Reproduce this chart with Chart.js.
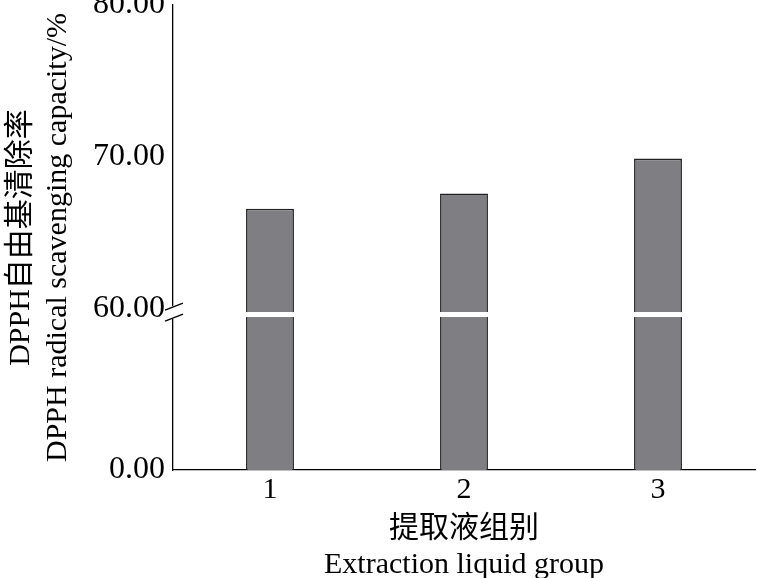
<!DOCTYPE html>
<html>
<head>
<meta charset="utf-8">
<script src="https://cdn.jsdelivr.net/npm/chart.js@4/dist/chart.umd.min.js"></script>
<style>
  html, body { margin: 0; padding: 0; background: #fff; }
  #wrap { width: 757px; height: 578px; }
</style>
</head>
<body>
<div id="wrap"><canvas id="c" width="757" height="578"></canvas></div>
<script>
// 数据
const groups = ['1', '2', '3'];
const scavenging = [66.6, 67.6, 69.9];
const yTicks = [0, 60, 70, 80];
const breakValue = 60;
const lowerSpan = 10.59; // 0~60 压缩后的高度（以上半段单位计）

// 断轴映射
function toVirtual(d) {
    if (d <= breakValue) return d * lowerSpan / breakValue;
    return lowerSpan + (d - breakValue);
}

const serif = "'Liberation Serif', 'Times New Roman', 'Noto Sans CJK SC', serif";

// 断轴标记
const breakPlugin = {
    id: 'axisBreak',
    afterDatasetsDraw(chart) {
        const ctx = chart.ctx;
        const y = chart.scales.y;
        const area = chart.chartArea;
        const p = y.getPixelForValue(toVirtual(breakValue));
        ctx.save();
        ctx.fillStyle = '#fff';
        ctx.fillRect(area.left + 2, p + 3, area.right - area.left, 5);
        ctx.fillRect(area.left - 2, p - 3, 4, 13);
        ctx.strokeStyle = '#000';
        ctx.lineWidth = 1.3;
        ctx.beginPath();
        ctx.moveTo(area.left - 8, p + 1);
        ctx.lineTo(area.left + 10, p - 6);
        ctx.moveTo(area.left - 8, p + 12);
        ctx.lineTo(area.left + 10, p + 5);
        ctx.stroke();
        ctx.restore();
    }
};

new Chart(document.getElementById('c').getContext('2d'), {
    type: 'bar',
    data: {
        labels: groups,
        datasets: [{
            data: scavenging.map(toVirtual),
            backgroundColor: '#7f7f83',
            borderColor: '#222',
            borderWidth: 1.6,
            barPercentage: 0.247,
            categoryPercentage: 1
        }]
    },
    options: {
        responsive: false,
        animation: false,
        layout: { padding: { top: 5, right: 2, left: 0, bottom: 0 } },
        plugins: {
            legend: { display: false },
            tooltip: { enabled: false }
        },
        scales: {
            x: {
                grid: { display: false },
                border: { display: true, color: '#000', width: 1.3 },
                ticks: { color: '#000', font: { family: serif, size: 30 }, padding: -6 },
                title: {
                    display: true,
                    text: ['提取液组别', 'Extraction liquid group'],
                    color: '#000',
                    font: { family: serif, size: 30, lineHeight: 1.2 },
                    padding: { top: 0, bottom: -5 }
                },
                afterFit(scale) { scale.height = 108; }
            },
            y: {
                min: 0,
                max: toVirtual(80),
                grid: { display: false },
                border: { display: true, color: '#000', width: 1.3 },
                afterBuildTicks(scale) {
                    scale.ticks = yTicks.map(t => ({ value: toVirtual(t) }));
                },
                ticks: {
                    color: '#000',
                    font: { family: serif, size: 32 },
                    padding: 0,
                    callback: function(value, index) {
                        return yTicks[index].toFixed(2);
                    }
                },
                title: {
                    display: true,
                    text: ['DPPH自由基清除率', 'DPPH radical scavenging capacity/%'],
                    color: '#000',
                    font: { family: serif, size: 30, lineHeight: 1.23 },
                    padding: { top: 3, bottom: 0 }
                },
                afterFit(scale) {
                    scale.width = 173;
                    scale.paddingTop = 0;
                    scale.paddingBottom = 0;
                }
            }
        }
    },
    plugins: [breakPlugin]
});
</script>
</body>
</html>
